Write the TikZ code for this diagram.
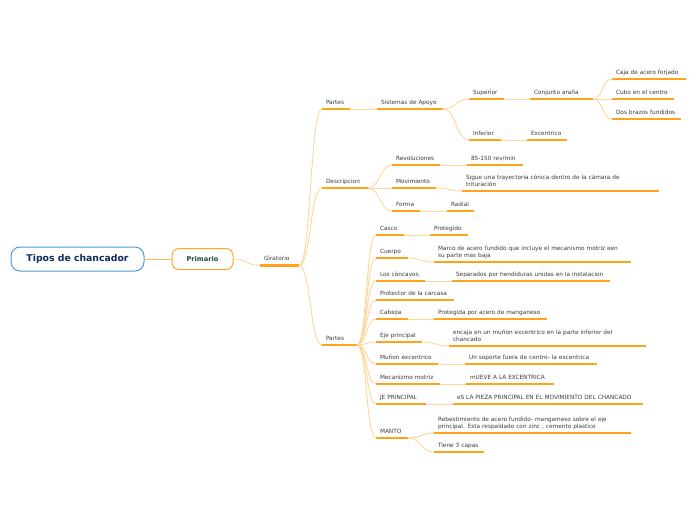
\documentclass[tikz,border=0pt]{standalone}
\usepackage{fontspec}
\setmainfont{DejaVu Sans}
\usepackage{xcolor}
\usepackage{tikz}
\usetikzlibrary{arrows,shapes,positioning}

\definecolor{ulorange}{HTML}{FFA31A}
\definecolor{linkorange}{HTML}{FFD59A}
\definecolor{trunkorange}{HTML}{FFB547}
\definecolor{rootblue}{HTML}{4A9BD6}
\definecolor{rootnavy}{HTML}{10295A}
\definecolor{primorange}{HTML}{FFA726}
\definecolor{primgreen}{HTML}{174A33}
\definecolor{leafgray}{HTML}{3A3A3A}

\begin{document}
\begin{tikzpicture}[x=1pt, y=-1pt,
    txt/.style={font=\fontsize{5.8}{7.3}\selectfont, text=leafgray, inner xsep=4pt, inner ysep=2.4pt,
        outer sep=0pt, anchor=south west, align=left, execute at end node=\strut},
    uline/.style={draw=ulorange, line width=1.8pt},
    leaf/.style={txt, text width=#1, append after command={\pgfextra{\let\ulnode\tikzlastnode}
        (\ulnode.south west) edge[uline] (\ulnode.south east)}},
    stem/.style={txt, text width=#1, append after command={\pgfextra{\let\ulnode\tikzlastnode}
        (\ulnode.south west) edge[uline, line width=2.5pt] (\ulnode.south east)}},
    link/.style={draw=linkorange, line width=0.9pt},
    rootbox/.style={draw=rootblue, fill=white, line width=1pt, rounded corners=9pt,
        minimum width=133pt, minimum height=24pt, text=rootnavy, font=\fontsize{9.3}{11}\selectfont\bfseries},
    mainbox/.style={draw=primorange, fill=white, line width=1pt, rounded corners=7pt,
        minimum width=61pt, minimum height=21pt, text=primgreen, font=\fontsize{6.6}{8}\selectfont\bfseries}]
    \useasboundingbox (0,0) rectangle (696,520);

    \node[rootbox] (root) at (77.5,259) {Tipos de chancador};
    \node[mainbox] (prim) at (202.5,259) {Primario};
    \node[stem=31pt] (gir) at (260,265.5) {Giratorio};

    % partes / sistemas de apoyo
    \node[stem=20pt] (partesA) at (322,109) {Partes};
    \node[leaf=58pt] (sist) at (377,109) {Sistemas de Apoyo};
    \node[leaf=27pt] (sup) at (469,99) {Superior};
    \node[leaf=55pt] (conj) at (530,99) {Conjunto araña};
    \node[leaf=66pt] (caja) at (612,79) {Caja de acero forjado};
    \node[leaf=54pt] (cubo) at (612,99) {Cubo en el centro};
    \node[leaf=61pt] (dos) at (612,119) {Dos brazos fundidos};
    \node[leaf=24pt] (inf) at (469,140) {Inferior};
    \node[leaf=32pt] (exc) at (527,140) {Excentrico};

    % descripcion
    \node[stem=38pt] (desc) at (322,188) {Descripcion};
    \node[leaf=40pt] (rev) at (392,165) {Revoluciones};
    \node[leaf=48pt] (rpm) at (467,165) {85-150 rev/min};
    \node[leaf=36pt] (mov) at (392,188) {Movimiento};
    \node[leaf=189pt] (sigue) at (462,191) {Sigue una trayectoria cónica dentro de la cámara de\\trituración};
    \node[leaf=20pt] (forma) at (392,211) {Forma};
    \node[leaf=19pt] (radial) at (447,211) {Radial};

    % partes
    \node[stem=27pt] (partesB) at (322,345) {Partes};
    \node[leaf=20pt] (casco) at (376,235) {Casco};
    \node[leaf=30pt] (prot) at (430,235) {Protegido};
    \node[leaf=24pt] (cuerpo) at (376,258) {Cuerpo};
    \node[leaf=189pt] (marco) at (434,262) {Marco de acero fundido que incluye el mecanismo motriz een\\su parte mas baja};
    \node[leaf=41pt] (conc) at (376,281) {Los cóncavos};
    \node[leaf=150pt] (sep) at (452,281) {Separados por hendiduras unidas en la instalacion};
    \node[leaf=70pt] (protc) at (376,300) {Protector de la carcasa};
    \node[leaf=24pt] (cab) at (376,319) {Cabeza};
    \node[leaf=105pt] (protm) at (434,319) {Protegida por acero de manganeso};
    \node[leaf=38pt] (eje) at (376,342) {Eje principal};
    \node[leaf=189pt] (encaja) at (449,346) {encaja en un muñon excentrico en la parte inferior del\\chancado};
    \node[leaf=54pt] (munon) at (376,364) {Muñon excentrico};
    \node[leaf=124pt] (soporte) at (465,364) {Un soporte fuera de centro- la excentrica};
    \node[leaf=56pt] (meca) at (376,384) {Mecanizmo motriz};
    \node[leaf=80pt] (mueve) at (466,384) {mUEVE A LA EXCENTRICA};
    \node[leaf=42pt] (je) at (376,404) {JE PRINCIPAL};
    \node[leaf=182pt] (pieza) at (453,404) {eS LA PIEZA PRINCIPAL EN EL MOVIMIENTO DEL CHANCADO};
    \node[leaf=24pt] (manto) at (376,438) {MANTO};
    \node[leaf=189pt] (rebes) at (434,433) {Rebestimiento de acero fundido- mangameso sobre el eje\\principal. Esta respaldado con zinc , cemento plastico};
    \node[leaf=42pt] (capas) at (434,452) {Tiene 3 capas};

    \draw[draw=trunkorange, line width=1pt] (root) -- (prim);
    \draw[link] (prim.east) .. controls +(14,0) and +(-14,0) .. (gir.south west);

    \draw[link] (gir.south east) .. controls +(12,0) and +(-12,0) .. (partesA.south west);
    \draw[link] (gir.south east) .. controls +(12,0) and +(-12,0) .. (desc.south west);
    \draw[link] (gir.south east) .. controls +(12,0) and +(-12,0) .. (partesB.south west);

    \draw[link] (partesA.south east) -- (sist.south west);
    \draw[link] (sist.south east) .. controls +(13,0) and +(-13,0) .. (sup.south west);
    \draw[link] (sist.south east) .. controls +(13,0) and +(-13,0) .. (inf.south west);
    \draw[link] (sup.south east) -- (conj.south west);
    \draw[link] (conj.south east) .. controls +(10,0) and +(-10,0) .. (caja.south west);
    \draw[link] (conj.south east) -- (cubo.south west);
    \draw[link] (conj.south east) .. controls +(10,0) and +(-10,0) .. (dos.south west);
    \draw[link] (inf.south east) -- (exc.south west);

    \draw[link] (desc.south east) .. controls +(12,0) and +(-12,0) .. (rev.south west);
    \draw[link] (desc.south east) -- (mov.south west);
    \draw[link] (desc.south east) .. controls +(12,0) and +(-12,0) .. (forma.south west);
    \draw[link] (rev.south east) -- (rpm.south west);
    \draw[link] (mov.south east) .. controls +(13,0) and +(-13,0) .. (sigue.south west);
    \draw[link] (forma.south east) -- (radial.south west);

    \foreach \n in {casco,cuerpo,conc,protc,cab,eje,munon,meca,je,manto}
        \draw[link] (partesB.south east) .. controls +(10,0) and +(-10,0) .. (\n.south west);
    \draw[link] (casco.south east) -- (prot.south west);
    \draw[link] (cuerpo.south east) .. controls +(12,0) and +(-12,0) .. (marco.south west);
    \draw[link] (conc.south east) -- (sep.south west);
    \draw[link] (cab.south east) -- (protm.south west);
    \draw[link] (eje.south east) .. controls +(13,0) and +(-13,0) .. (encaja.south west);
    \draw[link] (munon.south east) -- (soporte.south west);
    \draw[link] (meca.south east) -- (mueve.south west);
    \draw[link] (je.south east) -- (pieza.south west);
    \draw[link] (manto.south east) .. controls +(13,0) and +(-13,0) .. (rebes.south west);
    \draw[link] (manto.south east) .. controls +(13,0) and +(-13,0) .. (capas.south west);
\end{tikzpicture}
\end{document}
